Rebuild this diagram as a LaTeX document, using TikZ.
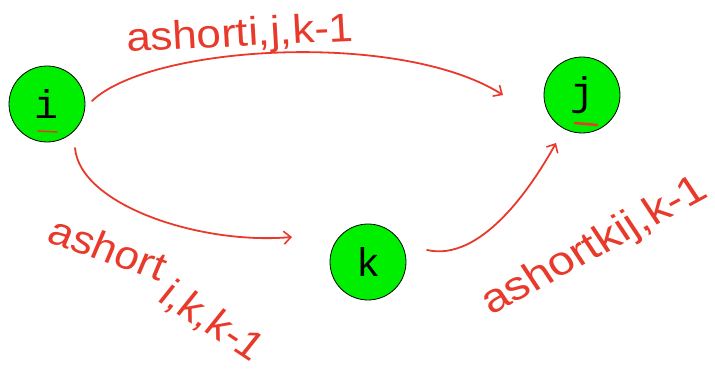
\documentclass[tikz,border=0pt]{standalone}
\usepackage{fontspec}
\setmainfont{Liberation Sans}
\newfontfamily\nodefont{Liberation Mono}
\usetikzlibrary{arrows.meta}
\definecolor{pen}{HTML}{E8392A}
\definecolor{nodegreen}{HTML}{00EE00}
\begin{document}
\begin{tikzpicture}[x=1pt,y=-1pt,
  vertex/.style={circle,draw=black,line width=0.8pt,fill=nodegreen,minimum size=76pt,inner sep=0pt,font=\nodefont\fontsize{40}{40}\selectfont},
  ink/.style={draw=pen,line width=1.8pt,line cap=round,-{Straight Barb[length=7pt,width=13pt,line width=1.6pt]}},
  hand/.style={text=pen,font=\fontsize{40}{40}\selectfont,inner sep=0pt,xscale=1.1}]
\useasboundingbox (0,0) rectangle (715,369);
\node[vertex] (i) at (47,104) {i};
\node[vertex] (j) at (582,95) {j};
\node[vertex] (k) at (368,262) {k};
\coordinate (ijs) at (92,101);
\coordinate (ije) at (503,95);
\coordinate (iks) at (75,148);
\coordinate (ike) at (292,237);
\coordinate (kjs) at (427,250);
\coordinate (kje) at (556,143);
\draw[ink] (ijs) .. controls (150,45) and (400,30) .. (ije);
\draw[ink] (iks) .. controls (80,205) and (200,245) .. (ike);
\draw[ink] (kjs) .. controls (480,262) and (530,190) .. (kje);
\draw[pen,line width=1.5pt,line cap=round] (38,131) -- (57,132);
\draw[pen,line width=2.5pt,line cap=round] (575,123) -- (597,125);
\node[hand,rotate=3] (l1) at (240,36) {ashorti,j,k-1};
\node[hand,rotate=-21] (l2a) at (108,248) {ashort};
\node[hand,rotate=-36] (l2b) at (212,322) {i,k,k-1};
\node[hand,rotate=31,xscale=1.08] (l3) at (595,247) {ashortkij,k-1};
\end{tikzpicture}
\end{document}
